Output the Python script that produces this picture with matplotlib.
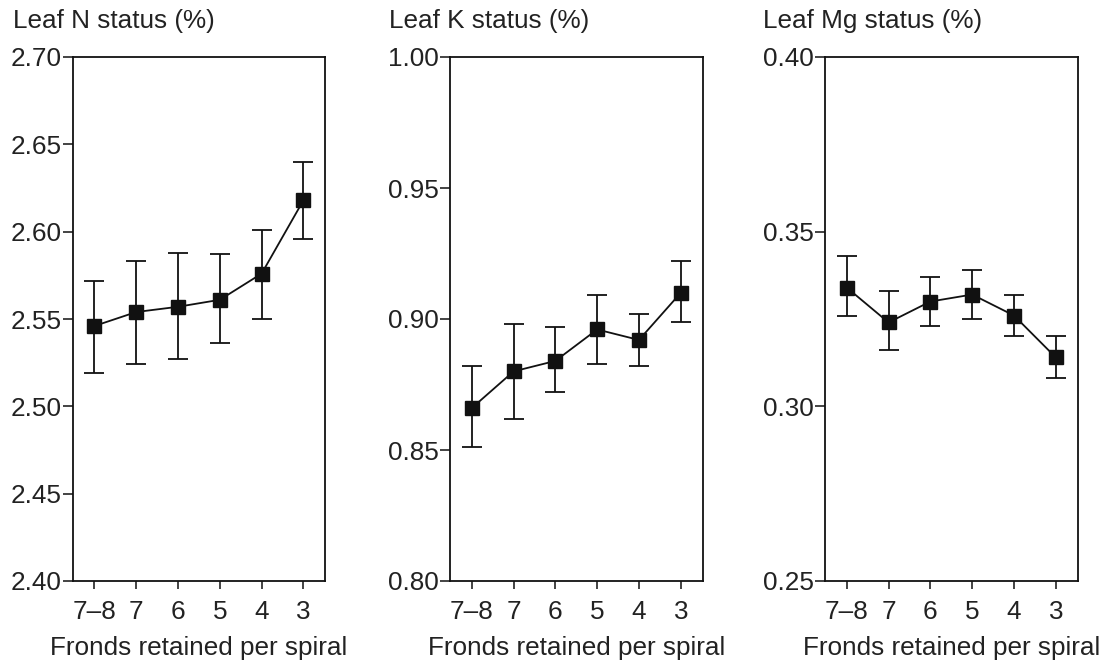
import matplotlib.pyplot as plt

plt.rcParams['font.family'] = ['Liberation Sans', 'DejaVu Sans']
plt.rcParams['font.size'] = 18.8

fronds = ['7\u20138', '7', '6', '5', '4', '3']

# leaf N
n_mean = [2.546, 2.554, 2.557, 2.561, 2.576, 2.618]
n_upper = [2.572, 2.583, 2.588, 2.587, 2.601, 2.640]
n_lower = [2.519, 2.524, 2.527, 2.536, 2.550, 2.596]

# leaf K
k_mean = [0.866, 0.880, 0.884, 0.896, 0.892, 0.910]
k_upper = [0.882, 0.898, 0.897, 0.909, 0.902, 0.922]
k_lower = [0.851, 0.862, 0.872, 0.883, 0.882, 0.899]

# leaf Mg
mg_mean = [0.334, 0.324, 0.330, 0.332, 0.326, 0.314]
mg_upper = [0.343, 0.333, 0.337, 0.339, 0.332, 0.320]
mg_lower = [0.326, 0.316, 0.323, 0.325, 0.320, 0.308]

panels = [
    ('Leaf N status (%)', n_mean, n_upper, n_lower, (2.40, 2.70), [2.40, 2.45, 2.50, 2.55, 2.60, 2.65, 2.70]),
    ('Leaf K status (%)', k_mean, k_upper, k_lower, (0.80, 1.00), [0.80, 0.85, 0.90, 0.95, 1.00]),
    ('Leaf Mg status (%)', mg_mean, mg_upper, mg_lower, (0.25, 0.40), [0.25, 0.30, 0.35, 0.40]),
]

W, H = 1099, 662
fig = plt.figure(figsize=(W / 100, H / 100), dpi=100)

ax_left = [72.7, 450, 825]
title_x = [13, 389, 763]
txt = '#222222'

for i, (title, mean, upper, lower, ylim, yticks) in enumerate(panels):
    ax = fig.add_axes([ax_left[i] / W, 81 / H, 252.5 / W, 524 / H])
    x = list(range(len(fronds)))
    err = [[m - l for m, l in zip(mean, lower)], [u - m for u, m in zip(upper, mean)]]
    ax.errorbar(x, mean, yerr=err, fmt='s-', color='#111111', markersize=10,
                linewidth=1.3, elinewidth=1.3, capsize=7.5, capthick=1.3)
    ax.set_xlim(-0.52, 5.52)
    ax.set_ylim(*ylim)
    ax.set_yticks(yticks)
    ax.set_yticklabels([f'{t:.2f}' for t in yticks], color=txt)
    ax.set_xticks(x)
    ax.set_xticklabels(fronds, color=txt)
    ax.tick_params(axis='y', length=7, width=1.1, pad=1, color='#111111')
    ax.tick_params(axis='x', length=5.5, width=1.1, pad=8, color='#111111')
    for s in ax.spines.values():
        s.set_linewidth(1.3)
        s.set_color('#111111')
    ax.set_xlabel('Fronds retained per spiral', color=txt, labelpad=9)
    fig.text(title_x[i] / W, 1 - 21 / H, title, ha='left', va='center', color=txt)

fig.savefig('out.png', dpi=100)
